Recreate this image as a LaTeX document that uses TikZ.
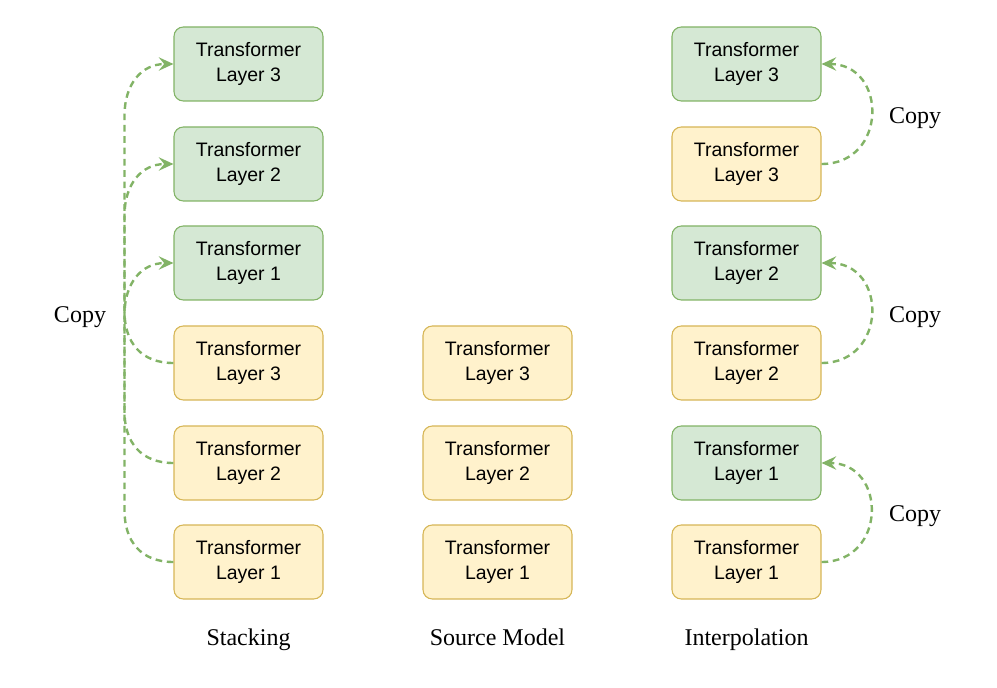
\documentclass[tikz,border=0pt]{standalone}
\usepackage{fontspec}
\setmainfont{Liberation Serif}
\newfontfamily\layerfont{Liberation Sans}
\usepackage{xcolor}
\usepackage{tikz}
\usetikzlibrary{positioning, arrows.meta}

\definecolor{greenfill}{HTML}{D5E8D4}
\definecolor{greenline}{HTML}{82B366}
\definecolor{yellowfill}{HTML}{FFF2CC}
\definecolor{yellowline}{HTML}{D6B656}

\tikzset{
    layer/.style={draw, rounded corners=7pt, line width=0.8pt, minimum width=111.75pt, minimum height=55.5pt,
        align=center, inner sep=0pt, font=\layerfont\fontsize{14.6}{18.7}\selectfont},
    newlayer/.style={layer, fill=greenfill, draw=greenline},
    oldlayer/.style={layer, fill=yellowfill, draw=yellowline},
    copyarrow/.style={draw=greenline, line width=1.8pt, dash pattern=on 5pt off 3.5pt,
        -{Stealth[length=11pt, width=10pt, inset=4pt, fill=greenline]}},
    caption/.style={font=\fontsize{18}{22}\selectfont, text height=12.5pt, text depth=4pt, inner sep=0pt}
}

\begin{document}
\begin{tikzpicture}[x=0.75pt, y=-0.75pt]
    \useasboundingbox (0,0) rectangle (997,688);

    % Stacking
    \node[newlayer] (sg3) at (248.5,64) {Transformer\\Layer 3};
    \node[newlayer] (sg2) at (248.5,164) {Transformer\\Layer 2};
    \node[newlayer] (sg1) at (248.5,263) {Transformer\\Layer 1};
    \node[oldlayer] (sy3) at (248.5,363) {Transformer\\Layer 3};
    \node[oldlayer] (sy2) at (248.5,463) {Transformer\\Layer 2};
    \node[oldlayer] (sy1) at (248.5,562) {Transformer\\Layer 1};
    \node[caption] (stack) at (248.5,640) {Stacking};
    \node[caption] (scopy) at (80,317) {Copy};

    \draw[copyarrow] (sy1.west) .. controls +(-32,0) and +(0,32) .. ++(-49,-52) -- ++(0,-195)
        .. controls +(0,-32) and +(-32,0) .. (sg1.west);
    \draw[copyarrow] (sy2.west) .. controls +(-32,0) and +(0,32) .. ++(-49,-52) -- ++(0,-195)
        .. controls +(0,-32) and +(-32,0) .. (sg2.west);
    \draw[copyarrow] (sy3.west) .. controls +(-32,0) and +(0,32) .. ++(-49,-52) -- ++(0,-195)
        .. controls +(0,-32) and +(-32,0) .. (sg3.west);

    % Source model
    \node[oldlayer] (my3) at (497.5,363) {Transformer\\Layer 3};
    \node[oldlayer] (my2) at (497.5,463) {Transformer\\Layer 2};
    \node[oldlayer] (my1) at (497.5,562) {Transformer\\Layer 1};
    \node[caption] (source) at (497.5,640) {Source Model};

    % Interpolation
    \node[newlayer] (ig3) at (746.5,64) {Transformer\\Layer 3};
    \node[oldlayer] (iy3) at (746.5,164) {Transformer\\Layer 3};
    \node[newlayer] (ig2) at (746.5,263) {Transformer\\Layer 2};
    \node[oldlayer] (iy2) at (746.5,363) {Transformer\\Layer 2};
    \node[newlayer] (ig1) at (746.5,463) {Transformer\\Layer 1};
    \node[oldlayer] (iy1) at (746.5,562) {Transformer\\Layer 1};
    \node[caption] (inter) at (746.5,640) {Interpolation};

    \draw[copyarrow] (iy3.east) to[out=0, in=0, looseness=1.7] (ig3.east);
    \draw[copyarrow] (iy2.east) to[out=0, in=0, looseness=1.7] (ig2.east);
    \draw[copyarrow] (iy1.east) to[out=0, in=0, looseness=1.7] (ig1.east);
    \node[caption] (icopy3) at (915,118) {Copy};
    \node[caption] (icopy2) at (915,317) {Copy};
    \node[caption] (icopy1) at (915,516) {Copy};
\end{tikzpicture}
\end{document}
